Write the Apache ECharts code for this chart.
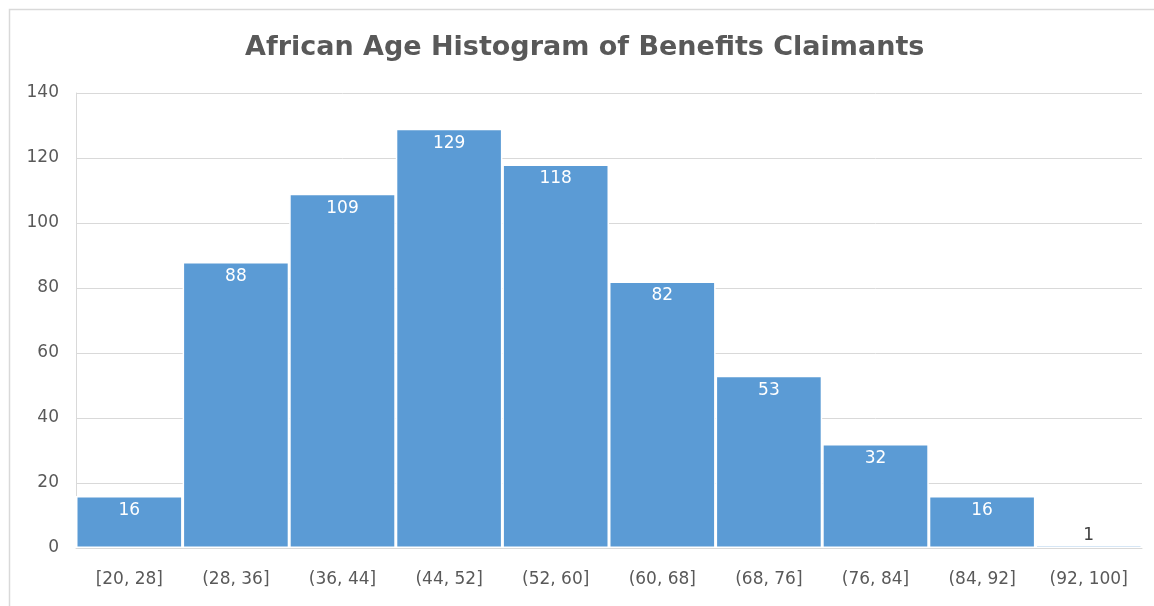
<!DOCTYPE html>
<html>
<head>
<meta charset="utf-8">
<script src="https://cdn.jsdelivr.net/npm/echarts@6/dist/echarts.min.js"></script>
<style>
html,body{margin:0;padding:0;background:#fff;}
#chart{width:1154px;height:606px;}
</style>
</head>
<body>
<div id="chart"></div>
<script>
const titleText = 'African Age Histogram of Benefits Claimants';
const categories = ['[20, 28]', '(28, 36]', '(36, 44]', '(44, 52]', '(52, 60]', '(60, 68]', '(68, 76]', '(76, 84]', '(84, 92]', '(92, 100]'];
const counts = [16, 88, 109, 129, 118, 82, 53, 32, 16, 1];
const yTicks = [0, 20, 40, 60, 80, 100, 120, 140];

const FONT = 'DejaVu Sans';
const chart = echarts.init(document.getElementById('chart'), null, {renderer: 'canvas'});

const seriesData = counts.map(v => v < 5
  ? {value: v, label: {position: 'top', color: '#404040', distance: 1}}
  : v);

chart.setOption({
  animation: false,
  textStyle: {fontFamily: FONT},
  graphic: [{
    type: 'rect',
    shape: {x: 9.5, y: 9.5, width: 1200, height: 700},
    style: {fill: 'none', stroke: '#d9d9d9', lineWidth: 1.5},
    silent: true
  }],
  title: {
    text: titleText,
    left: 245,
    top: 34,
    padding: 0,
    textStyle: {fontFamily: FONT, fontSize: 27, fontWeight: 'bold', color: '#595959'}
  },
  grid: {left: 76, right: 12, top: 93, bottom: 58, containLabel: false},
  xAxis: {
    type: 'category',
    data: categories,
    axisLine: {show: true, lineStyle: {color: '#d9d9d9', width: 1}},
    axisTick: {show: false},
    axisLabel: {color: '#595959', fontSize: 17, fontFamily: FONT, margin: 23}
  },
  yAxis: {
    type: 'value',
    min: yTicks[0],
    max: yTicks[yTicks.length - 1],
    interval: 20,
    axisLine: {show: true, lineStyle: {color: '#d9d9d9'}},
    axisTick: {show: false},
    axisLabel: {color: '#595959', fontSize: 17, fontFamily: FONT, margin: 17},
    splitLine: {lineStyle: {color: '#d9d9d9', width: 1}}
  },
  series: [{
    type: 'bar',
    data: seriesData,
    barCategoryGap: '0%',
    itemStyle: {color: '#5b9bd5', borderColor: '#ffffff', borderWidth: 1.5},
    label: {
      show: true,
      position: 'insideTop',
      distance: 6,
      color: '#ffffff',
      fontSize: 17,
      fontFamily: FONT
    }
  }]
});
</script>
</body>
</html>
